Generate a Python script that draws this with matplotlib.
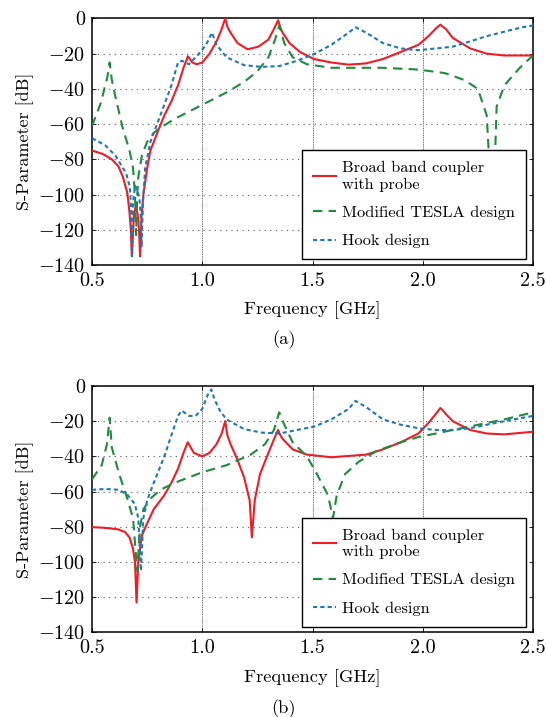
import matplotlib
matplotlib.use("Agg")
import matplotlib.pyplot as plt

plt.rcParams['font.family'] = 'serif'
plt.rcParams['font.serif'] = ['cmr10']
plt.rcParams['mathtext.fontset'] = 'cm'
plt.rcParams['axes.formatter.use_mathtext'] = True
plt.rcParams['axes.unicode_minus'] = True

labels = ["Broad band coupler\nwith probe", "Modified TESLA design", "Hook design"]
xticks = [0.5, 1.0, 1.5, 2.0, 2.5]
yticks = [0, -20, -40, -60, -80, -100, -120, -140]

# ---------- panel (a) ----------
a_red_f = [0.5, 0.55, 0.59, 0.62, 0.64, 0.66, 0.67, 0.676, 0.681, 0.69, 0.699, 0.708, 0.714, 0.718, 0.725, 0.733, 0.75, 0.765,
           0.796, 0.828, 0.86, 0.89, 0.915, 0.935, 0.955, 0.975, 1.0, 1.033, 1.065, 1.088, 1.104,
           1.115, 1.128, 1.16, 1.206, 1.254, 1.3, 1.325, 1.344, 1.354, 1.364, 1.396, 1.443, 1.506, 1.585,
           1.664, 1.743, 1.82, 1.9, 1.98, 2.026, 2.065, 2.08, 2.092, 2.105, 2.136, 2.215, 2.29, 2.37, 2.5]
a_red_v = [-75, -77, -80, -84, -90, -99, -110, -120, -135, -112, -106, -112, -122, -135, -112, -100, -85, -75,
           -65, -55, -47, -38, -28, -21.5, -25, -26, -25, -20, -13, -6, 0,
           -5, -8, -14, -17.5, -16, -12, -6, -1, -5, -8, -14, -19, -23, -25,
           -26.2, -25.5, -23, -19, -15, -10, -5, -3.5, -4.8, -6, -11, -17, -20, -21, -21]

a_grn_f = [0.5, 0.54, 0.57, 0.58, 0.59, 0.607, 0.639, 0.67, 0.686, 0.695, 0.70, 0.705, 0.71, 0.726, 0.75,
           0.78, 0.81, 0.875, 1.0, 1.11, 1.19, 1.25, 1.3, 1.33, 1.35, 1.372, 1.41, 1.475, 1.585,
           1.82, 1.98, 2.1, 2.19, 2.25, 2.29, 2.31, 2.32, 2.335, 2.37, 2.44, 2.5]
a_grn_v = [-61, -48, -33, -25, -35, -45, -62, -75, -85, -100, -123, -100, -90, -78, -70,
           -65, -62, -57, -49, -42, -36, -30, -22, -12, -4, -14, -22, -26, -28,
           -28, -29, -31, -35, -40, -55, -100, -110, -50, -38, -28, -21]

a_blu_f = [0.5, 0.56, 0.607, 0.655, 0.672, 0.678, 0.681, 0.686, 0.695, 0.705, 0.715, 0.72, 0.725, 0.731,
           0.741, 0.765, 0.81, 0.86, 0.89, 0.907, 0.94, 0.985, 1.017, 1.044, 1.065, 1.11, 1.19, 1.27,
           1.35, 1.43, 1.51, 1.585, 1.664, 1.695, 1.743, 1.82, 1.9, 1.98, 2.06, 2.136, 2.215, 2.29, 2.37,
           2.45, 2.5]
a_blu_v = [-68, -72, -78, -88, -96, -110, -135, -105, -95, -97, -102, -110, -130, -105,
           -85, -70, -55, -38, -25, -24, -26, -20, -15, -8, -15, -22, -26.5, -27.5,
           -27, -24, -20, -15, -8, -5, -8, -14, -17, -18, -17, -16, -13, -10, -7.5,
           -5, -4]

# ---------- panel (b) ----------
b_red_f = [0.5, 0.55, 0.59, 0.62, 0.65, 0.67, 0.685, 0.695, 0.702, 0.71, 0.726, 0.75, 0.78, 0.828, 0.86, 0.89, 0.915, 0.934,
           0.962, 1.0, 1.033, 1.065, 1.088, 1.104, 1.114, 1.128, 1.16, 1.19, 1.215, 1.225, 1.238, 1.262, 1.3,
           1.333, 1.344, 1.354, 1.364, 1.41, 1.475, 1.585, 1.743, 1.82, 1.9, 1.98, 2.026, 2.065, 2.08,
           2.092, 2.105, 2.136, 2.215, 2.29, 2.37, 2.5]
b_red_v = [-80.2, -80.5, -81, -81.5, -83, -86, -92, -100, -123, -100, -85, -78, -70, -62, -55, -47, -38, -32,
           -38, -40, -38, -33, -27, -20, -28, -33, -42, -52, -65, -86, -65, -50, -38,
           -28, -25, -28, -30, -36, -39, -40.5, -39, -36, -32, -27, -21, -15, -12.5,
           -14, -16, -20, -25, -27, -27.5, -26]

b_grn_f = [0.5, 0.544, 0.568, 0.58, 0.59, 0.623, 0.655, 0.686, 0.705, 0.718, 0.733, 0.765, 0.81, 0.875,
           1.0, 1.11, 1.22, 1.285, 1.325, 1.349, 1.372, 1.41, 1.475, 1.52, 1.57, 1.593, 1.61, 1.648,
           1.71, 1.79, 1.9, 1.98, 2.06, 2.136, 2.215, 2.29, 2.37, 2.5]
b_grn_v = [-53, -45, -33, -18, -35, -50, -62, -75, -105, -80, -70, -64, -59, -55,
           -49, -45, -39, -33, -25, -15, -22, -32, -40, -50, -62, -75, -62, -50,
           -43, -37, -32, -29, -27, -25, -23, -21, -19, -15]

b_blu_f = [0.5, 0.56, 0.623, 0.662, 0.694, 0.71, 0.722, 0.733, 0.75, 0.78, 0.828, 0.86, 0.89, 0.907,
           0.94, 0.97, 1.0, 1.025, 1.041, 1.057, 1.08, 1.11, 1.19, 1.27, 1.35, 1.43, 1.51, 1.585,
           1.664, 1.695, 1.743, 1.82, 1.9, 1.98, 2.06, 2.136, 2.215, 2.29, 2.37, 2.5]
b_blu_v = [-59, -58.5, -59, -62, -67, -75, -105, -75, -65, -55, -40, -28, -17, -14,
           -17, -17, -13, -5, -2, -8, -14, -19, -24.5, -26.5, -27, -25, -23, -19,
           -13, -8.5, -12, -19, -22, -24, -25, -25, -24, -22, -20, -17]

panels = [
    (a_red_f, a_red_v, a_grn_f, a_grn_v, a_blu_f, a_blu_v, "(a)"),
    (b_red_f, b_red_v, b_grn_f, b_grn_v, b_blu_f, b_blu_v, "(b)"),
]

RED = "#ee1c25"
GRN = "#1e8b3a"
BLU = "#1f77b4"

fig = plt.figure(figsize=(5.46, 7.17), dpi=100)
ax_bottoms = [0.6304, 0.1179]
label_y = [0.526, 0.012]
xlab_y = [0.568, 0.054]

for i, (rf, rv, gf, gv, bf, bv, tag) in enumerate(panels):
    ax = fig.add_axes([0.1685, ax_bottoms[i], 0.8077, 0.3438])
    ax.plot(rf, rv, color=RED, lw=1.5, label=labels[0], zorder=3)
    ax.plot(gf, gv, color=GRN, lw=1.5, ls=(0, (4.5, 3)), label=labels[1], zorder=3)
    ax.plot(bf, bv, color=BLU, lw=1.5, ls=(0, (2, 1.5)), label=labels[2], zorder=3)
    ax.set_xlim(0.5, 2.5)
    ax.set_ylim(-140, 0)
    ax.set_xticks(xticks)
    ax.set_yticks(yticks)
    ax.set_xticklabels(["0.5", "1.0", "1.5", "2.0", "2.5"])
    ax.set_yticklabels(["0"] + ["$-%d$" % (-v) for v in yticks[1:]])
    for x in xticks[1:-1]:
        ax.axvline(x, color="#666666", lw=0.7, ls=(0, (1, 0.8)), zorder=1)
    for y in yticks[1:-1]:
        ax.axhline(y, color="#555555", lw=0.8, ls=(0, (1, 4)), zorder=1)
    ax.tick_params(direction="in", top=True, right=True, length=3, width=0.6,
                   labelsize=14.5, pad=5)
    for s in ax.spines.values():
        s.set_linewidth(1.1)
    ax.set_ylabel("S-Parameter [dB]", fontsize=13, labelpad=3)
    fig.text(0.572, xlab_y[i], "Frequency [GHz]", fontsize=13.3, ha="center", va="center")
    fig.text(0.52, label_y[i], tag, fontsize=13.3, ha="center", va="center")
    leg = ax.legend(loc="lower right", bbox_to_anchor=(0.984, 0.024), fontsize=11.8,
                    frameon=True, fancybox=False, framealpha=1, edgecolor="black",
                    handlelength=1.4, handletextpad=0.4, labelspacing=0.85,
                    borderpad=0.65, borderaxespad=0)
    leg.get_frame().set_linewidth(1.0)
    leg.set_zorder(5)

fig.savefig("out.png", dpi=100)
